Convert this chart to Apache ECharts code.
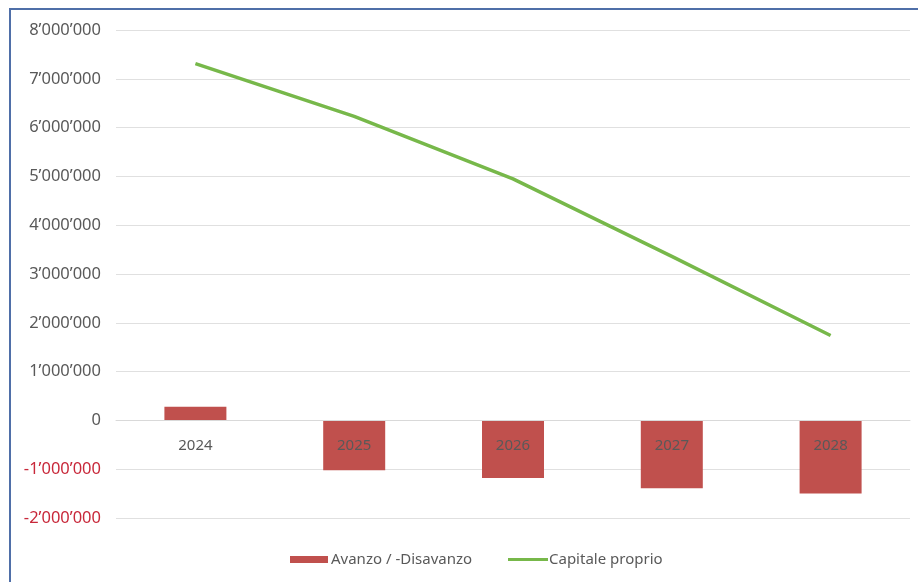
<!DOCTYPE html>
<html>
<head>
<meta charset="utf-8">
<script src="https://cdn.jsdelivr.net/npm/echarts@6/dist/echarts.min.js"></script>
<style>
html,body{margin:0;padding:0;background:#fff;}
#frame{position:absolute;left:9px;top:8px;width:909px;height:574px;border-left:2px solid #4f6fa8;border-top:2px solid #4f6fa8;box-sizing:border-box;}
#chart{position:absolute;left:0;top:0;width:918px;height:582px;}
</style>
</head>
<body>
<div id="frame"></div>
<div id="chart"></div>
<script>
const categories = ['2024', '2025', '2026', '2027', '2028'];
const avanzo = [280000, -1020000, -1180000, -1390000, -1500000];
const capitale = [7310000, 6230000, 4950000, 3360000, 1740000];
const yTicks = { min: -2000000, max: 8000000, interval: 1000000 };

function fmt(v) {
  const neg = v < 0;
  const s = Math.abs(v).toString().replace(/\B(?=(\d{3})+(?!\d))/g, '\u2019');
  return (neg ? '-' : '') + s;
}

const gridTop = 30, gridBottom = 64, H = 582;
const plotH = H - gridTop - gridBottom;
const zeroOffset = -plotH * (0 - yTicks.min) / (yTicks.max - yTicks.min);

const chart = echarts.init(document.getElementById('chart'));
chart.setOption({
  animation: false,
  backgroundColor: 'transparent',
  textStyle: { fontFamily: 'Noto Sans' },
  grid: { left: 116, right: 8, top: gridTop, bottom: gridBottom, containLabel: false },
  legend: [
    {
      left: 285, top: 547,
      itemWidth: 38, itemHeight: 7,
      icon: 'rect',
      textStyle: { fontSize: 15, color: '#595959', fontFamily: 'Noto Sans', padding: [0,0,0,-2] },
      data: ['Avanzo / -Disavanzo']
    },
    {
      left: 503, top: 547,
      itemWidth: 40, itemHeight: 3,
      icon: 'rect',
      textStyle: { fontSize: 15, color: '#595959', fontFamily: 'Noto Sans', padding: [0,0,0,-4] },
      data: ['Capitale proprio']
    }
  ],
  xAxis: {
    type: 'category',
    data: categories,
    z: 10,
    offset: zeroOffset,
    axisLine: { onZero: false, lineStyle: { color: '#d9d9d9' } },
    axisTick: { show: false },
    axisLabel: { fontSize: 15, color: '#595959', margin: 18 },
    splitLine: { show: false }
  },
  yAxis: {
    type: 'value',
    min: yTicks.min, max: yTicks.max, interval: yTicks.interval,
    axisLine: { show: false },
    axisTick: { show: false },
    axisLabel: {
      fontSize: 16.5,
      margin: 15,
      color: function (v) { return Number(v) < 0 ? '#c8283a' : '#595959'; },
      formatter: fmt
    },
    splitLine: { lineStyle: { color: '#e0e0e0', width: 1 } }
  },
  series: [
    {
      name: 'Avanzo / -Disavanzo',
      type: 'bar',
      data: avanzo,
      barWidth: 62,
      itemStyle: { color: '#c0504d' }
    },
    {
      name: 'Capitale proprio',
      type: 'line',
      data: capitale,
      symbol: 'none',
      lineStyle: { color: '#77b84a', width: 3.5 },
      itemStyle: { color: '#77b84a' }
    }
  ]
});
</script>
</body>
</html>
